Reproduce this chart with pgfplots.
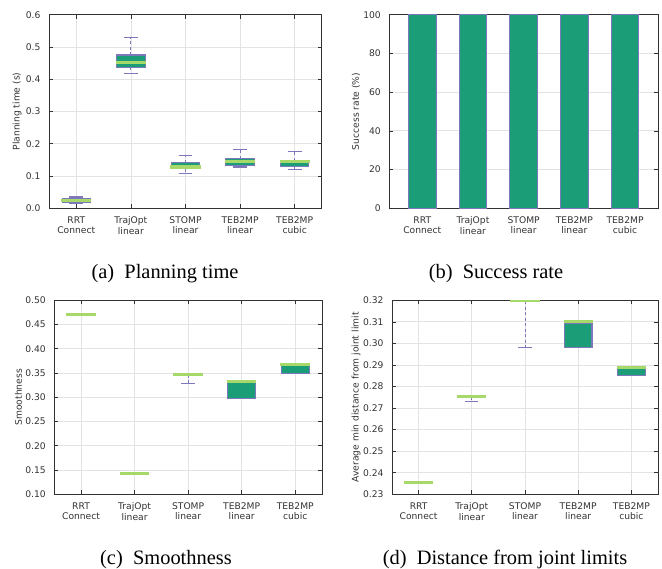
\documentclass[border=0pt]{standalone}
\usepackage{fontspec}
\setmainfont{Liberation Serif}
\newfontfamily\ticfont{DejaVu Sans}
\usepackage{pgfplots}
\pgfplotsset{compat=1.18}
\usepgfplotslibrary{statistics}
\definecolor{boxfill}{HTML}{1B9E77}
\definecolor{boxline}{HTML}{7C78BA}
\definecolor{medcol}{HTML}{A6D96A}
\definecolor{gridc}{HTML}{E3E3E3}
\definecolor{axc}{HTML}{333333}
\newcommand{\tf}{\ticfont\fontsize{9.2}{10.3}\selectfont}
\pgfplotsset{
  gp/.style={
    scale only axis,
    anchor=north west,
    xmin=-0.5, xmax=4.5,
    xtick={0,1,2,3,4},
    xticklabels={{RRT\\Connect},{TrajOpt\\linear},{STOMP\\linear},{TEB2MP\\linear},{TEB2MP\\cubic}},
    xticklabel style={align=center, font=\tf, text=axc, yshift=-5bp},
    yticklabel style={font=\tf, text=axc, xshift=-5bp},
    ylabel style={font=\tf, text=axc, anchor=center},
    /pgf/number format/assume math mode=true,
    tick align=inside,
    tick pos=both,
    major tick length=4bp,
    tick style={axc, line width=0.7pt},
    axis line style={axc, line width=1pt},
    grid=major,
    major grid style={gridc, line width=0.8pt},
  },
  mybox/.style={
    boxplot/draw direction=y,
    boxplot/box extend=0.52,
    boxplot/whisker extend=0.25,
    boxplot/draw/box/.code={
      \draw[fill=boxfill, draw=boxline, line width=1.1bp]
        (boxplot box cs:\pgfplotsboxplotvalue{lower quartile},0)
        rectangle
        (boxplot box cs:\pgfplotsboxplotvalue{upper quartile},1);
    },
    boxplot/draw/median/.code={
      \draw[medcol, line width=3.2bp]
        (boxplot box cs:\pgfplotsboxplotvalue{median},-0.03) --
        (boxplot box cs:\pgfplotsboxplotvalue{median},1.03);
    },
    boxplot/draw/lower whisker/.code={
      \draw[boxline, line width=1bp, dash pattern=on 3bp off 2.5bp]
        (boxplot cs:\pgfplotsboxplotvalue{lower quartile}) --
        (boxplot cs:\pgfplotsboxplotvalue{lower whisker});
      \draw[boxline, line width=1.1bp]
        (boxplot whisker cs:\pgfplotsboxplotvalue{lower whisker},0) --
        (boxplot whisker cs:\pgfplotsboxplotvalue{lower whisker},1);
    },
    boxplot/draw/upper whisker/.code={
      \draw[boxline, line width=1bp, dash pattern=on 3bp off 2.5bp]
        (boxplot cs:\pgfplotsboxplotvalue{upper quartile}) --
        (boxplot cs:\pgfplotsboxplotvalue{upper whisker});
      \draw[boxline, line width=1.1bp]
        (boxplot whisker cs:\pgfplotsboxplotvalue{upper whisker},0) --
        (boxplot whisker cs:\pgfplotsboxplotvalue{upper whisker},1);
    },
    boxplot/draw/average/.code={},
  },
}
\begin{document}
\begin{tikzpicture}
\useasboundingbox (0,0) rectangle (662bp,-569bp);
% (a) Planning time
\begin{axis}[gp, at={(49bp,-14.7bp)}, width=273bp, height=193.6bp,
  ymin=0, ymax=0.6, ytick={0,0.1,0.2,0.3,0.4,0.5,0.6},
  yticklabel style={/pgf/number format/.cd, fixed, fixed zerofill, precision=1},
  ylabel={Planning time (s)},
  ylabel style={at={(axis description cs:-0.117,0.5)}}]
\addplot[mybox, boxplot prepared={draw position=0, lower whisker=0.016, lower quartile=0.019, median=0.024, upper quartile=0.029, upper whisker=0.035}] coordinates {};
\addplot[mybox, boxplot prepared={draw position=1, lower whisker=0.418, lower quartile=0.437, median=0.452, upper quartile=0.475, upper whisker=0.529}] coordinates {};
\addplot[mybox, boxplot prepared={draw position=2, lower whisker=0.108, lower quartile=0.122, median=0.128, upper quartile=0.141, upper whisker=0.165}] coordinates {};
\addplot[mybox, boxplot prepared={draw position=3, lower whisker=0.128, lower quartile=0.132, median=0.144, upper quartile=0.154, upper whisker=0.183}] coordinates {};
\addplot[mybox, boxplot prepared={draw position=4, lower whisker=0.121, lower quartile=0.129, median=0.144, upper quartile=0.148, upper whisker=0.177}] coordinates {};
\end{axis}
% (b) Success rate
\begin{axis}[gp, at={(389.3bp,-14.7bp)}, width=268.7bp, height=193.6bp,
  xmin=-0.65, xmax=4.65,
  ymin=0, ymax=100, ytick={0,20,40,60,80,100},
  ylabel={Success rate (\%)},
  ylabel style={at={(axis description cs:-0.124,0.5)}}]
\addplot[ybar, bar width=0.55, fill=boxfill, draw=boxline, line width=1bp] coordinates {(0,100) (1,100) (2,100) (3,100) (4,100)};
\end{axis}
% (c) Smoothness
\begin{axis}[gp, at={(54.3bp,-300.3bp)}, width=267.7bp, height=194bp,
  ymin=0.10, ymax=0.50, ytick={0.10,0.15,0.20,0.25,0.30,0.35,0.40,0.45,0.50},
  yticklabel style={/pgf/number format/.cd, fixed, fixed zerofill, precision=2},
  ylabel={Smoothness},
  ylabel style={at={(axis description cs:-0.134,0.5)}}]
\addplot[mybox, boxplot prepared={draw position=0, lower whisker=0.470, lower quartile=0.470, median=0.470, upper quartile=0.470, upper whisker=0.470}] coordinates {};
\addplot[mybox, boxplot prepared={draw position=1, lower whisker=0.143, lower quartile=0.143, median=0.143, upper quartile=0.143, upper whisker=0.143}] coordinates {};
\addplot[mybox, boxplot prepared={draw position=2, lower whisker=0.328, lower quartile=0.346, median=0.347, upper quartile=0.347, upper whisker=0.347}] coordinates {};
\addplot[mybox, boxplot prepared={draw position=3, lower whisker=0.298, lower quartile=0.298, median=0.332, upper quartile=0.330, upper whisker=0.332}] coordinates {};
\addplot[mybox, boxplot prepared={draw position=4, lower whisker=0.350, lower quartile=0.350, median=0.368, upper quartile=0.366, upper whisker=0.368}] coordinates {};
\end{axis}
% (d) Distance from joint limits
\begin{axis}[gp, at={(392bp,-300.3bp)}, width=266bp, height=194bp,
  ymin=0.23, ymax=0.32, ytick={0.23,0.24,0.25,0.26,0.27,0.28,0.29,0.30,0.31,0.32},
  yticklabel style={/pgf/number format/.cd, fixed, fixed zerofill, precision=2},
  ylabel={Average min distance from joint limit},
  ylabel style={at={(axis description cs:-0.135,0.5)}}]
\addplot[mybox, boxplot prepared={draw position=0, lower whisker=0.2355, lower quartile=0.2355, median=0.2355, upper quartile=0.2355, upper whisker=0.2355}] coordinates {};
\addplot[mybox, boxplot prepared={draw position=1, lower whisker=0.2731, lower quartile=0.2752, median=0.2755, upper quartile=0.2755, upper whisker=0.2755}] coordinates {};
\addplot[mybox, boxplot prepared={draw position=2, lower whisker=0.2983, lower quartile=0.3196, median=0.3198, upper quartile=0.3198, upper whisker=0.3198}] coordinates {};
\addplot[mybox, boxplot prepared={draw position=3, lower whisker=0.2982, lower quartile=0.2982, median=0.3101, upper quartile=0.3093, upper whisker=0.3101}] coordinates {};
\addplot[mybox, boxplot prepared={draw position=4, lower whisker=0.2851, lower quartile=0.2851, median=0.2889, upper quartile=0.2882, upper whisker=0.2889}] coordinates {};
\end{axis}
% captions
\node[font=\fontsize{20.5}{24}\selectfont, anchor=base] at (165bp,-278bp) {(a)\ \ Planning time};
\node[font=\fontsize{20.5}{24}\selectfont, anchor=base] at (496bp,-278bp) {(b)\ \ Success rate};
\node[font=\fontsize{20.5}{24}\selectfont, anchor=base] at (166bp,-564bp) {(c)\ \ Smoothness};
\node[font=\fontsize{20.5}{24}\selectfont, anchor=base] at (505bp,-564bp) {(d)\ \ Distance from joint limits};
\end{tikzpicture}
\end{document}
